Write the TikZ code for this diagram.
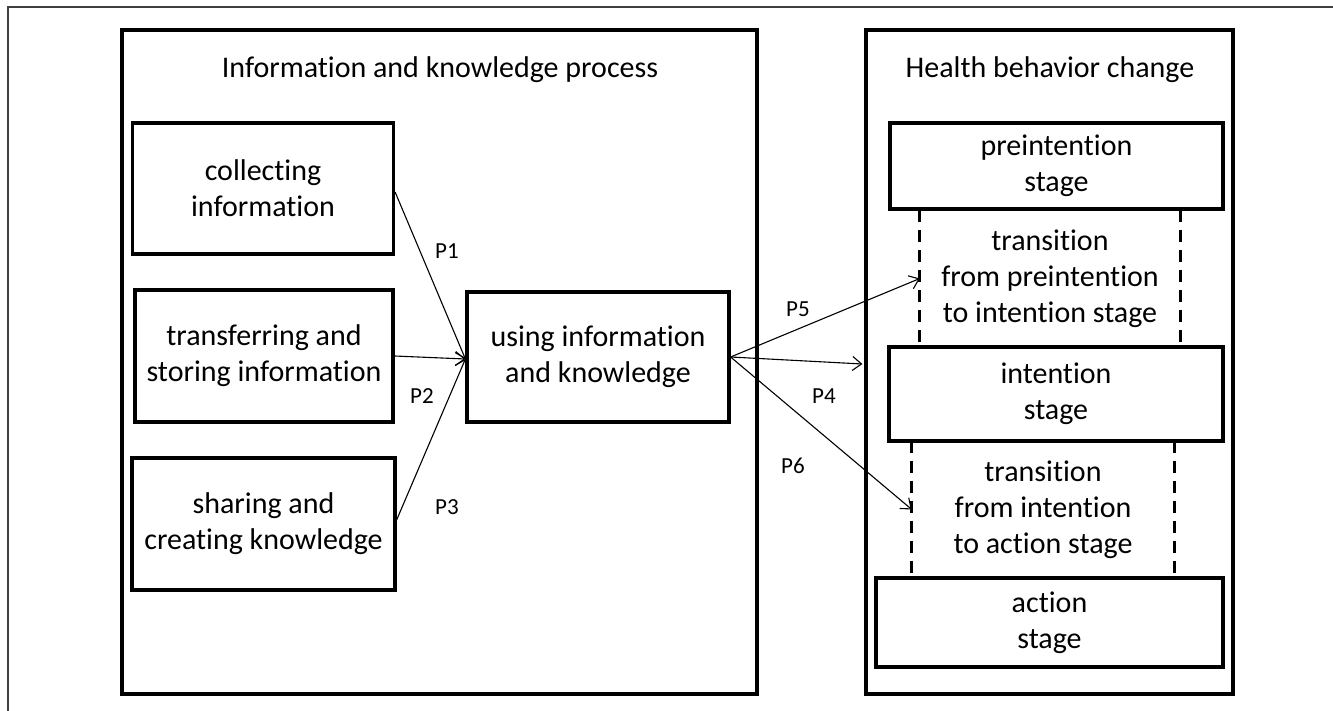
\documentclass[tikz,border=0pt]{standalone}
\usepackage{fontspec}
\setmainfont{Carlito}[Ligatures=NoCommon]
\usetikzlibrary{arrows.meta}
\begin{document}
\begin{tikzpicture}[x=1pt,y=-1pt,
  txt/.style={font=\fontsize{30}{36}\selectfont, align=center},
  frame/.style={draw, line width=3.2pt, inner sep=0pt},
  box/.style={draw, line width=3.2pt, inner sep=0pt, txt},
  trans/.style={inner sep=0pt, txt},
  dashside/.style={line width=3.2pt, dash pattern=on 12pt off 8pt},
  conn/.style={line width=1.1pt, -{Straight Barb[length=9pt,width=14pt,line width=1.1pt]}},
  plabel/.style={font=\fontsize{23}{27}\selectfont}
]
\useasboundingbox (0,0) rectangle (1333,711);
\fill[white] (0,0) rectangle (1333,711);
% outer thin frame (top and left)
\draw[black!75, line width=1.5pt] (8,711) -- (8,7) -- (1333,7);

% main frames
\node[frame, minimum width=635pt, minimum height=664pt] (leftframe) at (439.5,362) {};
\node[frame, minimum width=367pt, minimum height=664pt] (rightframe) at (1049.5,362) {};
\node[txt] (titleL) at (440,70) {Information and knowledge process};
\node[txt] (titleR) at (1050,70) {Health behavior change};

% left column
\node[box, minimum width=261pt, minimum height=131pt] (collect) at (263,188.5) {collecting\\information};
\node[box, minimum width=258pt, minimum height=132pt] (transfer) at (264,356) {transferring and\\storing information};
\node[box, minimum width=263pt, minimum height=132pt] (sharing) at (263.5,524) {sharing and\\creating knowledge};
\node[box, minimum width=262pt, minimum height=130pt] (using) at (598,357) {using information\\and knowledge};

% right column
\node[box, minimum width=333pt, minimum height=86pt] (pre) at (1056.5,166) {preintention\\stage};
\node[trans, minimum width=260pt, minimum height=137pt] (trans1) at (1050,278.5) {transition\\from preintention\\to intention stage};
\node[box, minimum width=334pt, minimum height=94pt] (intent) at (1056,394) {intention\\stage};
\node[trans, minimum width=262pt, minimum height=137pt] (trans2) at (1043,509.5) {transition\\from intention\\to action stage};
\node[box, minimum width=347pt, minimum height=89pt] (action) at (1049.5,622.5) {action\\stage};

\draw[dashside] (trans1.north west) -- (trans1.south west);
\draw[dashside] (trans1.north east) -- (trans1.south east);
\draw[dashside] (trans2.north west) -- (trans2.south west);
\draw[dashside] (trans2.north east) -- (trans2.south east);

% connectors
\draw[conn] ([yshift=-3.5pt]collect.east) -- ([yshift=-2pt]using.west);
\draw[conn] (transfer.east) -- ([yshift=-2pt]using.west);
\draw[conn] ([yshift=4pt]sharing.east) -- ([yshift=-2pt]using.west);
\draw[conn] (using.east) -- (trans1.west);
\draw[conn] (using.east) -- ([xshift=-2pt,yshift=-2pt]rightframe.west);
\draw[conn] (using.east) -- (trans2.west);

% labels
\node[plabel] (p1) at (447,251) {P1};
\node[plabel] (p2) at (422,396) {P2};
\node[plabel] (p3) at (447,507) {P3};
\node[plabel] (p5) at (798,309) {P5};
\node[plabel] (p4) at (824,396) {P4};
\node[plabel] (p6) at (793,466) {P6};
\end{tikzpicture}
\end{document}
